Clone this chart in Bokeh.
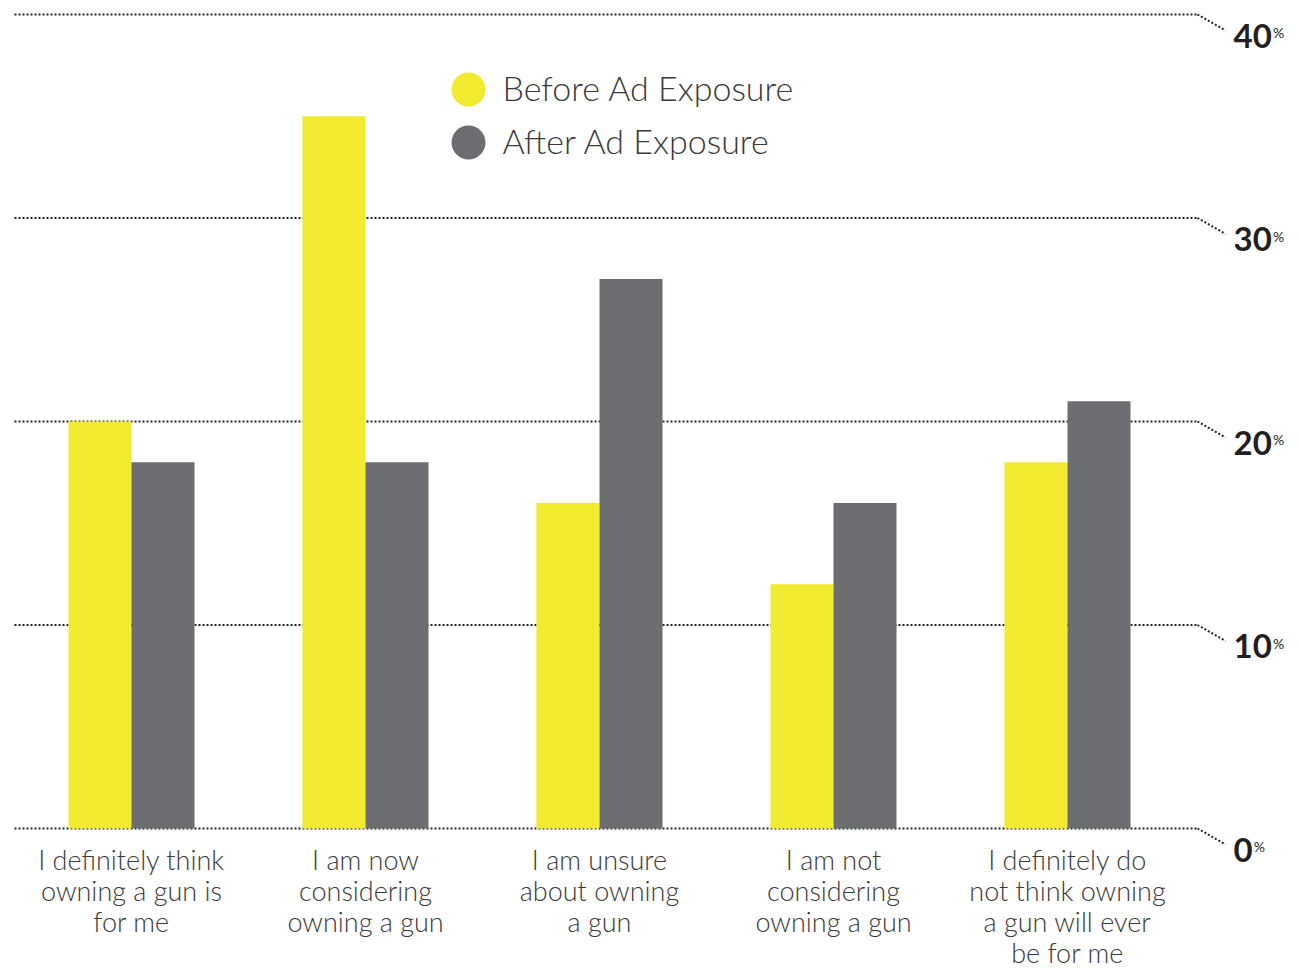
import numpy as np
from bokeh.plotting import figure
from bokeh.models import Range1d
from bokeh.core.properties import value
from bokeh.embed import file_html
from bokeh.resources import INLINE

# ---- data ----
categories = [
    "I definitely think\nowning a gun is\nfor me",
    "I am now\nconsidering\nowning a gun",
    "I am unsure\nabout owning\na gun",
    "I am not\nconsidering\nowning a gun",
    "I definitely do\nnot think owning\na gun will ever\nbe for me",
]
before = [20, 35, 16, 12, 18]
after = [18, 18, 27, 16, 21]
series_names = ["Before Ad Exposure", "After Ad Exposure"]
ticks = [0, 10, 20, 30, 40]

YELLOW = "#F2EA2E"
GRAY = "#6D6E71"
TEXT = "#3A3A3A"
DARK = "#231F20"
LIGHT_FONT = value("'Lato Light', Lato")
BOLD_FONT = value("Lato")

W, H = 1299, 968
PX_X = 234.0      # pixels per category step
PX_Y = 20.35      # pixels per percent
x0_px, y0_px = 131.0, 828.0   # position of category 0 / value 0 inside the figure

x_range = Range1d(-x0_px / PX_X, (W - x0_px) / PX_X)
y_range = Range1d(-(H - y0_px) / PX_Y, y0_px / PX_Y)

p = figure(width=W, height=H, x_range=x_range, y_range=y_range,
           output_backend="svg", toolbar_location=None,
           min_border=0, outline_line_color=None)
p.axis.visible = False
p.grid.visible = False
p.background_fill_color = "white"
p.border_fill_color = "white"

xs = np.arange(len(categories), dtype=float)
bw = 63 / PX_X

# grid lines (dotted) with diagonal connectors to the right-hand labels
g_start = -117 / PX_X
g_end = 1066 / PX_X
d_end = 1094 / PX_X
d_drop = 16 / PX_Y
tk = np.array(ticks, dtype=float)
n = len(tk)
p.segment(x0=[g_start] * n, y0=tk, x1=[g_end] * n, y1=tk,
          line_color="#222222", line_width=2, line_dash="2 2")
p.segment(x0=[g_end] * n, y0=tk, x1=[d_end] * n, y1=tk - d_drop,
          line_color="#222222", line_width=2, line_dash="2 2")

p.vbar(x=xs - bw / 2, top=before, bottom=0, width=bw, fill_color=YELLOW, line_color=None)
p.vbar(x=xs + bw / 2, top=after, bottom=0, width=bw, fill_color=GRAY, line_color=None)

# right-hand tick labels
lx = 1102 / PX_X
p.text(x=[lx] * n, y=tk, text=[str(t) for t in ticks],
       text_font=BOLD_FONT, text_font_style="bold", text_font_size="33px",
       text_color=DARK, text_align="left", text_baseline="middle", y_offset=21)
p.text(x=[lx + (19.2 * len(str(t)) + 1) / PX_X for t in ticks], y=tk, text=["%"] * n,
       text_font=BOLD_FONT, text_font_size="14px",
       text_color=DARK, text_align="left", text_baseline="middle", y_offset=18)

# category labels
lab_x, lab_y, lab_t = [], [], []
for i, c in enumerate(categories):
    for j, line in enumerate(c.split("\n")):
        lab_x.append(xs[i])
        lab_y.append(-(31 + 31 * j) / PX_Y)
        lab_t.append(line)
p.text(x=lab_x, y=lab_y, text=lab_t, text_font=LIGHT_FONT, text_font_size="27px",
       text_color=TEXT, text_align="center", text_baseline="alphabetic")

# legend (custom)
leg_x = 337 / PX_X
leg_y = [(y0_px - 89) / PX_Y, (y0_px - 142) / PX_Y]
p.scatter(x=[leg_x] * 2, y=leg_y, size=34, marker="circle",
          fill_color=[YELLOW, GRAY], line_color=None)
p.text(x=[leg_x + 34 / PX_X] * 2, y=leg_y, text=series_names, text_font=LIGHT_FONT,
       text_font_size="34px", text_color=TEXT, text_align="left", text_baseline="middle",
       y_offset=-2)

open("out.html", "w").write(file_html(p, INLINE))
